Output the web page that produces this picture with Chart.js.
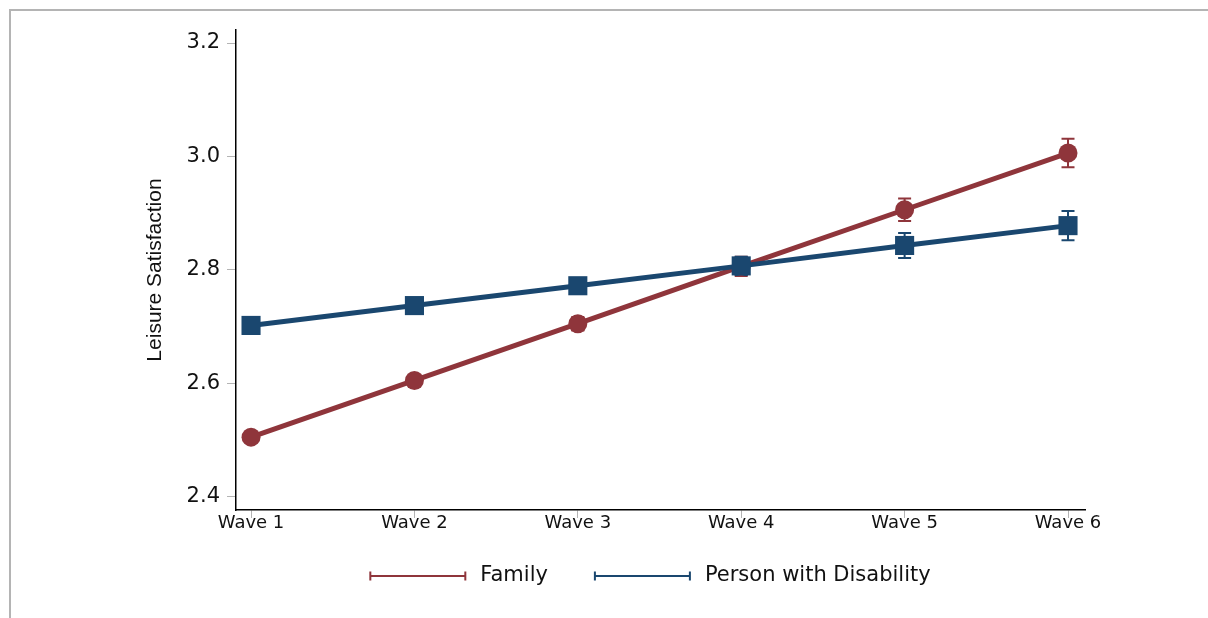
<!DOCTYPE html>
<html>
<head>
<meta charset="utf-8">
<script src="https://cdn.jsdelivr.net/npm/chart.js@4.4.0/dist/chart.umd.min.js"></script>
<style>
  body { margin: 0; background: #fff; }
  #wrap { position: relative; width: 1208px; height: 618px; }
  #frame { position: absolute; left: 9px; top: 9px; right: 0; bottom: 0;
           border-top: 2px solid #b4b4b4; border-left: 2px solid #b4b4b4; pointer-events: none; }
</style>
</head>
<body>
<div id="wrap">
  <canvas id="leisureChart"></canvas>
  <div id="frame"></div>
</div>
<script>
// Data
const waves = ['Wave 1', 'Wave 2', 'Wave 3', 'Wave 4', 'Wave 5', 'Wave 6'];
const familyValues = [2.505, 2.605, 2.705, 2.806, 2.906, 3.006];
const familyErrors = [0.006, 0.009, 0.012, 0.017, 0.020, 0.025];
const disabilityValues = [2.702, 2.737, 2.772, 2.807, 2.843, 2.878];
const disabilityErrors = [0.006, 0.009, 0.012, 0.016, 0.022, 0.026];
const yTicks = [2.4, 2.6, 2.8, 3.0, 3.2];

const familyColor = '#8f353b';
const disabilityColor = '#1a476f';

function toPoints(values) {
    return values.map((v, i) => ({ x: i + 1, y: v }));
}

// Draws the +/- error bars with caps, under the markers
const errorBars = {
    id: 'errorBars',
    beforeDatasetsDraw(chart) {
        const ctx = chart.ctx;
        const xs = chart.scales.x;
        const ys = chart.scales.y;
        chart.data.datasets.forEach(ds => {
            ctx.save();
            ctx.strokeStyle = ds.borderColor;
            ctx.lineWidth = 2;
            ds.errors.forEach((e, i) => {
                const px = xs.getPixelForValue(ds.data[i].x);
                const top = ys.getPixelForValue(ds.data[i].y + e);
                const bot = ys.getPixelForValue(ds.data[i].y - e);
                ctx.beginPath();
                ctx.moveTo(px, top); ctx.lineTo(px, bot);
                ctx.moveTo(px - 6.5, top); ctx.lineTo(px + 6.5, top);
                ctx.moveTo(px - 6.5, bot); ctx.lineTo(px + 6.5, bot);
                ctx.stroke();
            });
            ctx.restore();
        });
    }
};

// Stata style legend: a line with capped ends, then the label
const capLegend = {
    id: 'capLegend',
    afterDraw(chart) {
        const ctx = chart.ctx;
        const area = chart.chartArea;
        const lineLen = 95, textGap = 15, itemGap = 47;
        ctx.save();
        ctx.font = '21px "DejaVu Sans", sans-serif';
        ctx.textBaseline = 'middle';
        const items = chart.data.datasets.map(ds => ({
            label: ds.label, color: ds.borderColor, w: ctx.measureText(ds.label).width
        }));
        let total = 0;
        items.forEach((it, i) => { total += lineLen + textGap + it.w + (i ? itemGap : 0); });
        let x = (area.left + area.right) / 2 - 10 - total / 2;
        const y = 576;
        items.forEach(it => {
            ctx.strokeStyle = it.color;
            ctx.lineWidth = 2;
            ctx.beginPath();
            ctx.moveTo(x, y); ctx.lineTo(x + lineLen, y);
            ctx.moveTo(x, y - 4.5); ctx.lineTo(x, y + 4.5);
            ctx.moveTo(x + lineLen, y - 4.5); ctx.lineTo(x + lineLen, y + 4.5);
            ctx.stroke();
            ctx.fillStyle = '#111';
            ctx.fillText(it.label, x + lineLen + textGap, y);
            x += lineLen + textGap + it.w + itemGap;
        });
        ctx.restore();
    }
};

const ctx = document.getElementById('leisureChart').getContext('2d');
new Chart(ctx, {
    type: 'line',
    data: {
        datasets: [
            {
                label: 'Family',
                data: toPoints(familyValues),
                errors: familyErrors,
                borderColor: familyColor,
                backgroundColor: familyColor,
                borderWidth: 5,
                pointStyle: 'circle',
                pointRadius: 9.5,
                pointHoverRadius: 9.5,
                pointBorderWidth: 0,
                tension: 0,
                order: 1
            },
            {
                label: 'Person with Disability',
                data: toPoints(disabilityValues),
                errors: disabilityErrors,
                borderColor: disabilityColor,
                backgroundColor: disabilityColor,
                borderWidth: 5,
                pointStyle: 'rect',
                pointRadius: 13.5,
                pointHoverRadius: 13.5,
                pointBorderWidth: 0,
                tension: 0,
                order: 0
            }
        ]
    },
    options: {
        responsive: true,
        maintainAspectRatio: false,
        animation: false,
        layout: { padding: { top: 30, right: 123, bottom: 0, left: 0 } },
        plugins: {
            legend: { display: false },
            tooltip: { enabled: false }
        },
        scales: {
            x: {
                type: 'linear',
                min: 0.908,
                max: 6.104,
                afterBuildTicks: scale => { scale.ticks = waves.map((w, i) => ({ value: i + 1 })); },
                afterFit: scale => { scale.height = 108; scale.paddingLeft = 0; scale.paddingRight = 0; },
                grid: { drawOnChartArea: false, drawTicks: true, tickLength: 8, color: '#b4b4b4' },
                border: { display: true, color: '#000', width: 1.5 },
                ticks: {
                    padding: -5,
                    maxRotation: 0,
                    color: '#111',
                    font: { family: 'DejaVu Sans', size: 18 },
                    callback: v => waves[v - 1]
                }
            },
            y: {
                min: 2.3765,
                max: 3.223,
                afterBuildTicks: scale => { scale.ticks = yTicks.map(v => ({ value: v })); },
                afterFit: scale => { scale.width = 236; },
                grid: { drawOnChartArea: false, drawTicks: true, tickLength: 9, color: '#b4b4b4' },
                border: { display: true, color: '#000', width: 1.5 },
                ticks: {
                    padding: 7,
                    color: '#111',
                    font: { family: 'DejaVu Sans', size: 21 },
                    callback: v => v.toFixed(1)
                },
                title: {
                    display: true,
                    text: 'Leisure Satisfaction',
                    color: '#111',
                    font: { family: '"Liberation Sans", sans-serif', size: 21 },
                    padding: { top: 143, bottom: 0 }
                }
            }
        }
    },
    plugins: [errorBars, capLegend]
});
</script>
</body>
</html>
